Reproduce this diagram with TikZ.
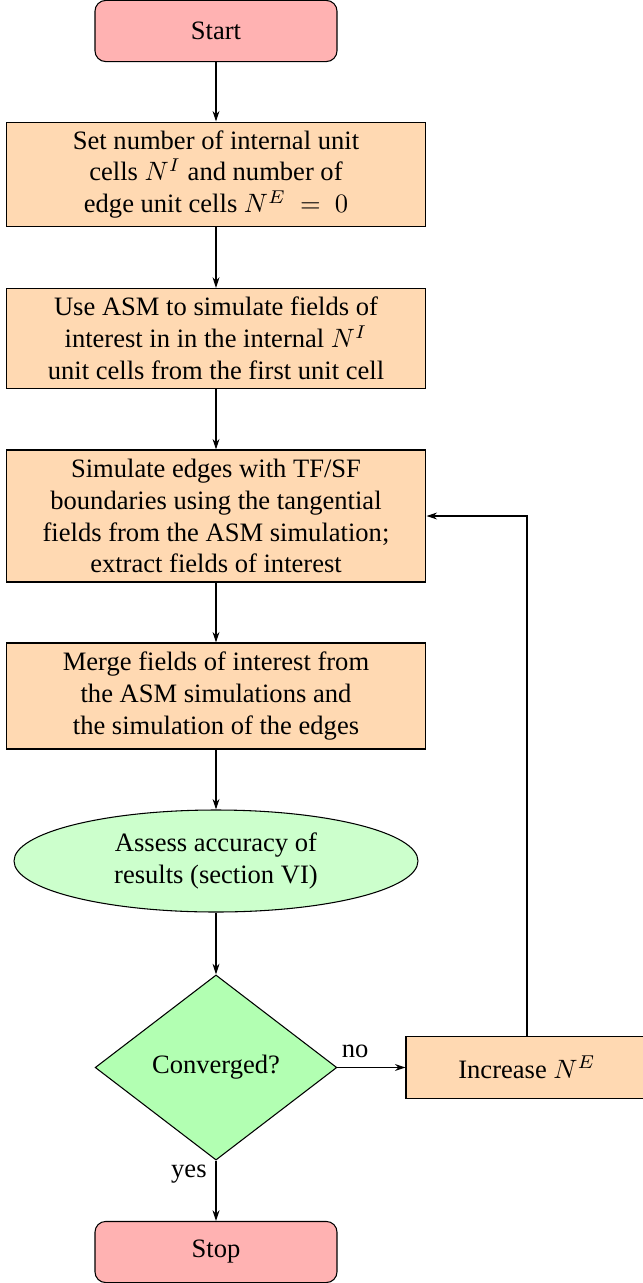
\documentclass[tikz,border=0pt]{standalone}
\usepackage{fontspec}
\setmainfont{Liberation Serif}
\usetikzlibrary{shapes.geometric,arrows.meta}

\tikzset{
  terminal/.style={draw, rounded corners=4pt, fill=red!30, minimum width=91.1pt, minimum height=23pt, align=center},
  process/.style={draw, fill=orange!30, minimum width=158.1pt, align=center, inner ysep=2pt},
  assess/.style={draw, ellipse, fill=green!20, minimum width=152.1pt, minimum height=38.4pt, align=center, inner sep=0pt},
  decision/.style={draw, diamond, fill=green!30, minimum width=91pt, minimum height=69.7pt, inner sep=0pt, align=center},
  flow/.style={draw, -{Stealth[length=4pt,width=2.6pt]}},
  tag/.style={font=\normalsize}
}

\begin{document}
\begin{tikzpicture}[x=0.3765pt, y=-0.3765pt]
  \useasboundingbox (0,0) rectangle (642,1283);

  \node[terminal] (start) at (216,31) {Start};
  \node[process, minimum height=39.5pt] (init) at (216,174.5)
    {Set number of internal unit\\ cells $N^I$ and number of\\ edge unit cells $N^E~=~0$};
  \node[process, minimum height=37.7pt] (asm) at (216,338.5)
    {Use ASM to simulate fields of\\ interest in in the internal $N^I$\\ unit cells from the first unit cell};
  \node[process, minimum height=49.7pt] (edges) at (216,516)
    {Simulate edges with TF/SF\\ boundaries using the tangential\\ fields from the ASM simulation;\\ extract fields of interest};
  \node[process, minimum height=39.9pt] (merge) at (216,696)
    {Merge fields of interest from\\ the ASM simulations and\\ the simulation of the edges};
  \node[assess] (acc) at (216,861) {Assess accuracy of\\ results (section VI)};
  \node[decision] (conv) at (216,1067.5) {Converged?};
  \node[process, minimum width=91.1pt, minimum height=23pt] (inc) at (527,1067.5) {Increase $N^E$};
  \node[terminal] (stop) at (216,1252) {Stop};

  \draw[flow] (start) -- (init);
  \draw[flow] (init) -- (asm);
  \draw[flow] (asm) -- (edges);
  \draw[flow] (edges) -- (merge);
  \draw[flow] (merge) -- (acc);
  \draw[flow] (acc) -- (conv);
  \draw[flow] (conv) -- node[tag, pos=0.26, above] {no} (inc);
  \draw[flow] (inc.north) |- (edges.east);
  \draw[flow] (conv) -- node[tag, pos=0.22, left] {yes} (stop);
\end{tikzpicture}
\end{document}
